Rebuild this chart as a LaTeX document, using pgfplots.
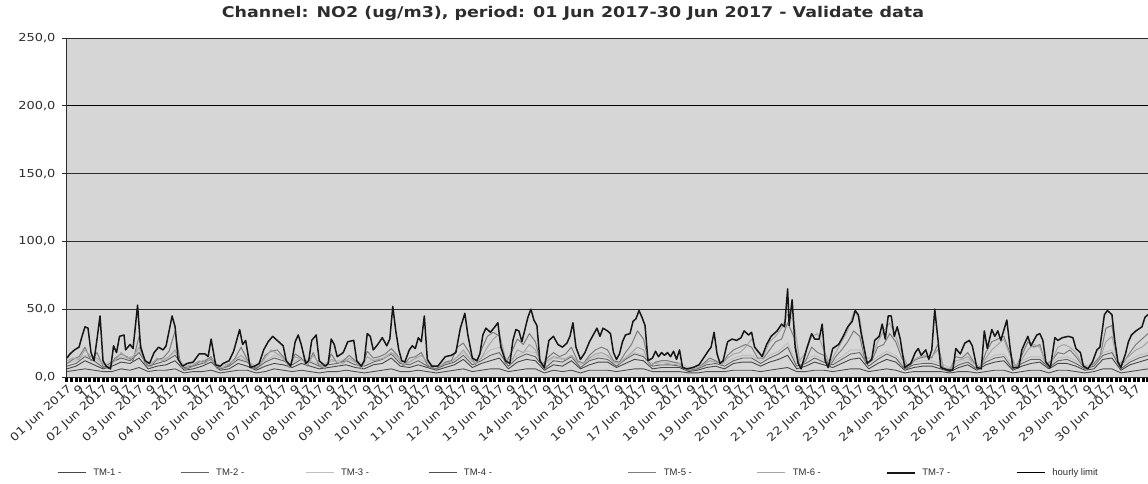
\documentclass[border=0pt]{standalone}
\usepackage{fontspec}
\setmainfont{DejaVu Sans}
\newfontfamily\widefont[FakeStretch=1.18]{DejaVu Sans}
\newfontfamily\legfont{Liberation Sans}
\usepackage{pgfplots}
\usepackage{pgfplotstable}
\pgfplotsset{compat=1.18}

\definecolor{bgplot}{RGB}{214,214,214}
\definecolor{txt}{RGB}{45,45,45}
\definecolor{cone}{RGB}{70,70,70}
\definecolor{ctwo}{RGB}{100,100,100}
\definecolor{cthree}{RGB}{190,190,190}
\definecolor{cfour}{RGB}{80,80,80}
\definecolor{cfive}{RGB}{125,125,125}
\definecolor{csix}{RGB}{165,165,165}
\definecolor{cseven}{RGB}{22,22,22}

% TM-7, read point by point (hour of month, ug/m3)
\pgfplotstableread{
h v
0 14
2 17
5 20
8 22
10 30
12 37
14 36
16 18
18 12
20 28
22 45
24 12
26 8
29 6
31 23
33 18
35 30
38 31
39 20
42 24
44 21
47 53
49 22
52 12
55 10
58 18
61 22
64 20
66 23
70 45
72 37
74 13
77 8
80 10
84 11
88 17
92 17
94 15
96 28
99 9
102 8
104 10
108 12
111 19
115 35
117 24
119 27
122 7
125 8
128 10
131 20
134 26
137 30
141 26
144 23
146 12
149 8
150 13
152 26
154 31
156 24
159 10
161 12
163 27
166 31
168 12
172 8
174 10
176 28
178 24
180 15
184 18
187 26
191 27
193 12
196 8
198 12
200 32
202 30
204 20
207 24
210 29
213 23
215 28
217 52
219 34
221 20
223 12
225 11
228 20
230 23
232 21
234 29
236 26
238 45
240 13
243 8
247 8
252 15
256 16
259 18
262 36
265 47
267 31
270 14
273 12
275 17
277 31
279 36
282 33
285 37
287 40
289 22
292 12
295 10
297 27
299 35
301 34
303 26
305 35
307 44
309 50
311 42
313 38
315 12
318 7
321 27
324 30
327 24
330 22
333 25
335 30
337 40
339 22
342 13
345 18
348 26
351 32
353 36
355 30
357 36
360 34
362 32
364 18
366 13
368 17
370 26
372 31
375 32
377 41
379 43
381 49
383 44
385 38
387 12
390 14
392 19
394 15
396 18
398 16
400 18
402 15
404 19
406 13
408 20
410 7
413 6
417 7
421 9
424 14
427 19
429 22
431 33
433 17
435 10
437 12
440 26
443 28
446 27
449 29
451 34
454 31
456 33
458 22
461 18
463 15
466 24
469 30
473 34
476 39
478 37
480 65
481 38
483 57
485 22
487 10
489 6
493 22
496 32
498 28
501 28
503 39
505 12
507 7
510 21
514 24
517 30
520 37
523 41
525 49
527 46
529 32
533 10
536 13
538 27
541 30
543 39
545 28
547 45
549 45
551 30
553 37
555 28
558 7
562 10
565 18
567 21
569 16
572 20
574 13
576 20
578 50
580 29
582 7
587 5
590 5
592 21
595 17
598 25
601 27
603 23
606 7
609 6
611 34
613 21
616 35
618 30
620 34
622 27
626 42
628 23
630 7
634 7
636 20
638 25
640 30
642 23
646 31
648 32
650 27
652 11
655 7
658 29
660 27
663 29
667 30
670 29
672 21
675 18
677 8
680 6
683 11
686 20
688 22
691 46
693 49
696 46
698 26
700 11
702 7
705 17
707 26
709 31
712 34
716 37
718 44
720 46
}\tmseven

% TM-5 and TM-6, every 4 hours
\pgfplotstableread{
h a b
0 10 12
4 13 14
8 15 13
12 22 20
16 12 15
20 18 14
24 8 10
28 6 8
32 14 12
36 17 18
40 15 14
44 12 15
48 30 22
52 9 11
56 8 9
60 13 14
64 14 12
68 19 15
72 34 20
76 7 9
80 6 8
84 8 9
88 11 12
92 12 10
96 15 14
100 6 8
104 7 7
108 9 10
112 14 13
116 22 16
120 13 12
124 6 8
128 8 9
132 16 14
136 19 20
140 20 17
144 15 14
148 7 8
152 17 15
156 14 13
160 8 9
164 18 16
168 8 10
172 6 7
176 17 13
180 10 11
184 12 10
188 16 14
192 12 11
196 6 7
200 19 15
204 14 12
208 15 13
212 17 14
216 21 18
220 16 15
224 8 9
228 14 11
232 15 14
236 18 16
240 9 11
244 6 8
248 7 8
252 11 10
256 12 11
260 22 15
264 25 20
268 18 14
272 9 10
276 20 14
280 30 22
284 33 28
288 30 32
292 10 14
296 18 12
300 28 20
304 24 18
308 32 24
312 26 20
316 8 9
320 14 12
324 18 15
328 15 14
332 17 13
336 22 16
340 12 11
344 10 10
348 16 14
352 20 17
356 22 18
360 20 16
364 12 11
368 11 10
372 18 14
376 24 18
380 34 22
384 28 20
388 8 9
392 11 10
396 12 9
400 12 10
404 11 9
408 10 10
412 5 6
416 5 6
420 6 7
424 10 9
428 14 12
432 12 11
436 9 9
440 16 14
444 20 17
448 22 18
452 24 22
456 22 28
460 14 18
464 14 16
468 20 26
472 26 30
476 28 36
480 40 46
484 30 42
488 8 12
492 12 18
496 22 30
500 18 32
504 16 20
508 8 10
512 15 18
516 20 26
520 26 34
524 34 48
528 30 44
532 10 14
536 12 14
540 22 26
544 24 34
548 32 40
552 26 30
556 14 18
560 6 8
564 12 13
568 14 15
572 15 16
576 14 15
580 24 20
584 6 7
588 5 6
592 15 12
596 14 13
600 18 15
604 11 10
608 6 7
612 18 14
616 26 20
620 28 24
624 30 28
628 18 16
632 7 8
636 16 13
640 26 20
644 22 24
648 24 22
652 9 10
656 12 12
660 18 22
664 17 24
668 20 22
672 15 18
676 9 10
680 6 7
684 10 9
688 15 14
692 36 26
696 38 30
700 10 10
704 11 12
708 18 16
712 24 20
716 28 22
720 32 26
}\tmfivesix

% TM-1 to TM-4, every 6 hours
\pgfplotstableread{
h a b c d
0 6 8 10 4
6 8 10 12 5
12 12 15 16 6
18 9 12 14 5
24 6 7 9 4
30 8 11 12 4
36 11 14 15 6
42 10 12 13 5
48 14 18 20 7
54 6 8 10 4
60 8 10 12 5
66 9 12 14 5
72 12 16 18 6
78 5 7 9 3
84 6 8 10 4
90 8 10 12 4
96 11 13 14 5
102 5 6 8 3
108 6 8 10 4
114 10 13 14 5
120 8 11 12 5
126 5 6 8 3
132 8 11 12 4
138 10 14 16 6
144 9 12 13 5
150 7 9 11 4
156 10 13 14 5
162 8 11 12 4
168 6 8 9 3
174 7 9 11 4
180 8 10 12 4
186 9 12 13 5
192 7 9 11 4
198 6 8 10 3
204 9 11 13 4
210 10 13 14 5
216 14 17 18 6
222 8 10 12 4
228 7 9 11 4
234 9 12 14 5
240 7 8 10 4
246 5 6 8 3
252 7 9 11 4
258 9 11 13 5
264 13 16 18 6
270 7 9 11 4
276 10 12 14 5
282 12 16 20 6
288 14 18 22 6
294 6 8 10 4
300 11 14 16 5
306 13 17 19 6
312 12 15 18 6
318 5 6 9 3
324 9 12 14 5
330 8 11 13 4
336 12 15 16 5
342 6 7 9 3
348 9 12 13 5
354 11 14 16 5
360 11 13 15 5
366 7 8 10 4
372 10 13 14 5
378 13 17 18 6
384 12 15 16 6
390 6 8 10 4
396 7 9 11 4
402 7 9 11 4
408 7 8 10 4
414 4 5 7 3
420 5 6 8 3
426 7 9 11 4
432 8 10 12 4
438 6 8 10 4
444 10 12 14 5
450 11 14 16 5
456 11 14 16 5
462 8 10 12 4
468 11 14 16 5
474 13 17 19 6
480 16 22 25 7
486 6 8 10 4
492 8 10 13 4
498 11 14 16 5
504 9 11 13 5
510 7 9 11 4
516 10 13 15 5
522 13 17 20 6
528 14 18 20 6
534 6 8 10 4
540 10 13 15 5
546 13 17 19 6
552 11 14 16 5
558 5 6 8 3
564 7 9 11 4
570 8 10 12 4
576 8 10 12 4
582 6 8 10 4
588 4 5 7 3
594 7 9 11 4
600 9 11 13 4
606 5 6 8 3
612 9 11 13 4
618 11 14 16 5
624 12 15 17 5
630 5 6 8 3
636 8 10 12 4
642 10 13 15 5
648 11 13 15 5
654 6 7 9 3
660 10 12 14 5
666 10 13 15 5
672 8 10 12 4
678 5 6 8 3
684 6 8 10 4
690 13 16 18 6
696 14 18 20 6
702 5 6 8 3
708 9 11 13 4
714 11 14 16 5
720 13 16 18 6
}\tmlow

\begin{document}
\begin{tikzpicture}
\begin{axis}[
    at={(0pt,0pt)}, anchor=south west,
    scale only axis,
    width=1081pt, height=339pt,
    xmin=0, xmax=720,
    ymin=0, ymax=250,
    axis background/.style={fill=bgplot},
    axis x line*=bottom, axis y line*=left,
    axis line style={txt, line width=1pt},
    every axis plot/.append style={line join=round},
    ytick={0,50,...,250},
    ymajorgrids,
    grid style={txt, line width=0.9pt},
    scaled y ticks=false,
    yticklabel style={xshift=-3pt, /pgf/number format/.cd, fixed, fixed zerofill, precision=1, use comma, assume math mode=true},
    tick label style={font=\widefont\fontsize{11}{12}\selectfont, text=txt},
    tick align=outside,
    major tick length=5pt,
    minor tick length=5pt,
    y tick style={txt, line width=0.9pt},
    major x tick style={draw=none},
    minor x tick style={line width=3pt, black},
    minor xtick={0,3,...,720},
    xtick={0,8,...,712},
    xticklabel={\pgfmathtruncatemacro\myh{round(\tick)}\pgfmathtruncatemacro\myr{mod(\myh,24)}\pgfmathtruncatemacro\myd{div(\myh,24)+1}\ifnum\myr=0 \ifnum\myd<10 0\fi\myd\ Jun 2017\else\ifnum\myr=8 9\else 17\fi\fi},
    xticklabel style={rotate=42, anchor=north east, inner sep=1pt},
    title={Channel: NO2 (ug/m3), period: 01 Jun 2017-30 Jun 2017 - Validate data},
    every axis title shift=0pt,
    title style={at={(0.468,1.071)}, anchor=center, font=\widefont\bfseries\fontsize{14.8}{16}\selectfont, text=txt},
    legend columns=8,
    legend image code/.code={\draw[#1] (0pt,0pt) -- (28pt,0pt);},
    legend style={at={(-0.009,-0.283)}, anchor=west, draw=none, fill=none, inner sep=0pt,
        font=\legfont\fontsize{9.5}{10}\selectfont, text=txt,
        /tikz/every odd column/.append style={column sep=5pt},
        /tikz/column 2/.style={column sep=57pt},
        /tikz/column 4/.style={column sep=59pt},
        /tikz/column 6/.style={column sep=57pt},
        /tikz/column 8/.style={column sep=134pt},
        /tikz/column 10/.style={column sep=63pt},
        /tikz/column 12/.style={column sep=63pt},
        /tikz/column 14/.style={column sep=64pt}},
  ]
  \addplot[cone, line width=0.9pt] table[x=h, y=a] {\tmlow};
  \addlegendentry{TM-1 -}
  \addplot[ctwo, line width=0.9pt] table[x=h, y=b] {\tmlow};
  \addlegendentry{TM-2 -}
  \addplot[cthree, line width=0.9pt] table[x=h, y=c] {\tmlow};
  \addlegendentry{TM-3 -}
  \addplot[cfour, line width=0.9pt] table[x=h, y=d] {\tmlow};
  \addlegendentry{TM-4 -}
  \addplot[cfive, line width=1pt] table[x=h, y=a] {\tmfivesix};
  \addlegendentry{TM-5 -}
  \addplot[csix, line width=1pt] table[x=h, y=b] {\tmfivesix};
  \addlegendentry{TM-6 -}
  \addplot[cseven, line width=1.5pt] table[x=h, y=v] {\tmseven};
  \addlegendentry{TM-7 -}
  \addplot[black, line width=1.1pt] coordinates {(0,200) (720,200)};
  \addlegendentry{hourly limit}
\end{axis}
\pgfresetboundingbox
\path[use as bounding box] (-67pt,-106pt) rectangle (1081pt,377pt);
\end{tikzpicture}
\end{document}
